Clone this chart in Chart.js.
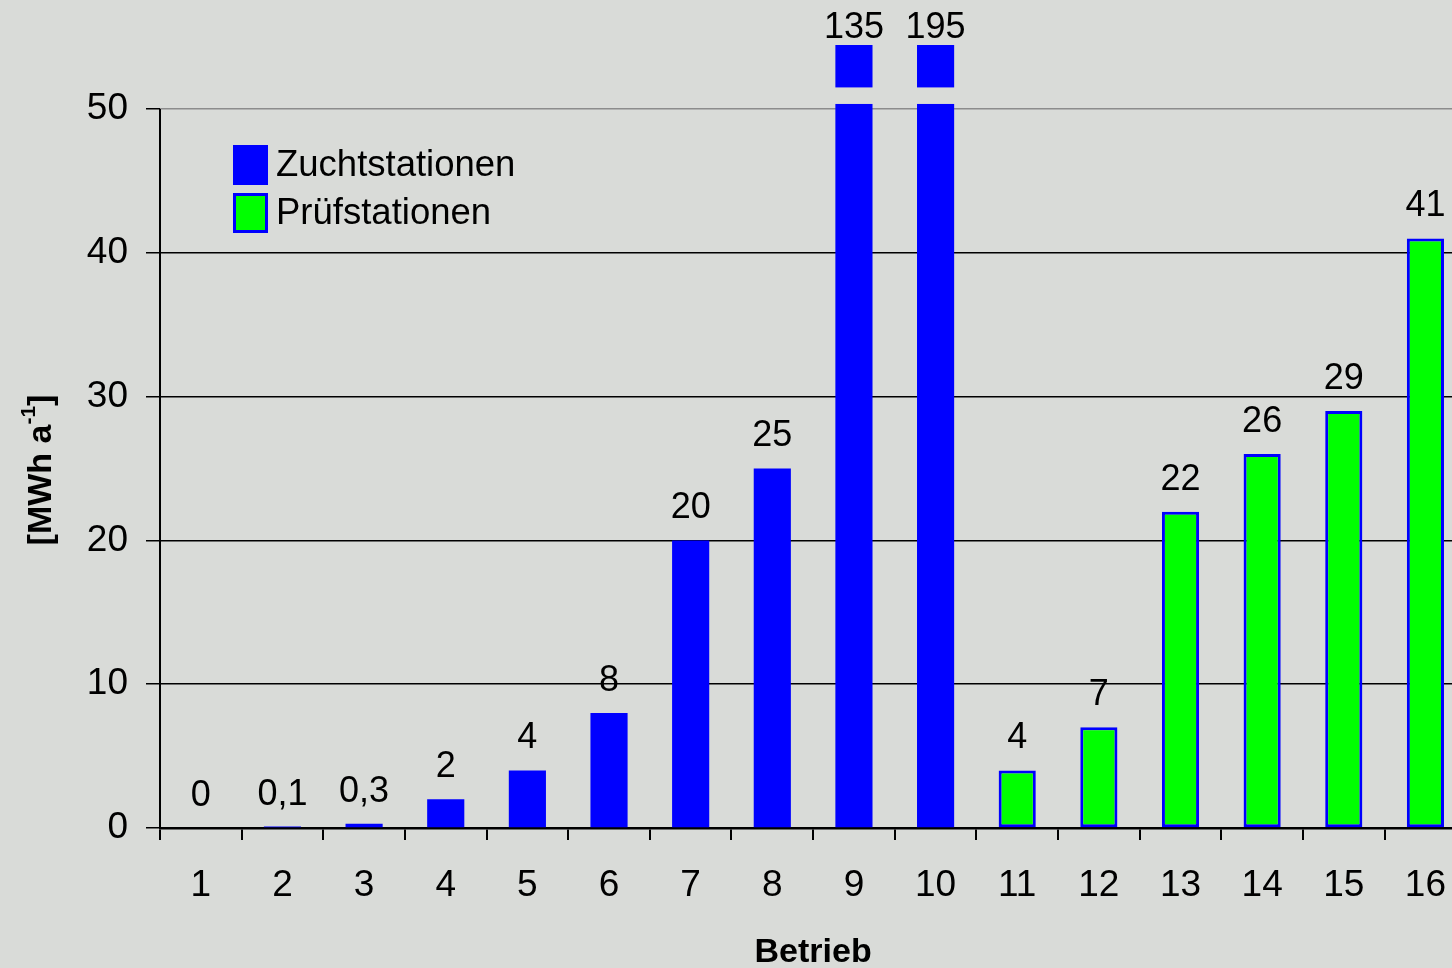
<!DOCTYPE html>
<html>
<head>
<meta charset="utf-8">
<script src="https://cdn.jsdelivr.net/npm/chart.js@4/dist/chart.umd.min.js"></script>
<style>
  html, body { margin: 0; padding: 0; background: #d9dbd8; overflow: hidden; }
  #wrap { width: 1470px; height: 968px; }
</style>
</head>
<body>
<div id="wrap"><canvas id="chart" width="1470" height="968"></canvas></div>
<script>
// Betriebe (farms) on the x axis
const betriebe = ['1', '2', '3', '4', '5', '6', '7', '8', '9', '10', '11', '12', '13', '14', '15', '16'];

// Annual energy use in MWh per year
const zuchtstationen = [0, 0.1, 0.3, 2, 4, 8, 20, 25, 135, 195, null, null, null, null, null, null];
const pruefstationen = [null, null, null, null, null, null, null, null, null, null, 4, 7, 22, 26, 29, 41];

// Visible y axis ticks (axis is broken above 50)
const yTicks = [0, 10, 20, 30, 40, 50];

const BG = '#d9dbd8';
const FONT = '"Liberation Sans", Arial, sans-serif';
const Y_TOP = 54.45;   // scale top: room for the stub of the broken bars
const BREAK_LOW = 50.35, BREAK_HIGH = 51.5;

const fmt = v => String(v).replace('.', ',');

// Value labels above each bar; broken bars get their label at the top edge
const valueLabels = {
  id: 'valueLabels',
  afterDatasetsDraw(chart) {
    const ctx = chart.ctx;
    const area = chart.chartArea;
    const y = chart.scales.y;
    ctx.save();
    // gap that marks the axis break on the tall bars
    chart.data.datasets.forEach((ds, di) => {
      const meta = chart.getDatasetMeta(di);
      meta.data.forEach((el, i) => {
        const v = ds.data[i];
        if (v == null || v <= 50) return;
        const top = y.getPixelForValue(BREAK_HIGH);
        const bot = y.getPixelForValue(BREAK_LOW);
        ctx.fillStyle = BG;
        ctx.fillRect(el.x - el.width / 2 - 3, top, el.width + 6, bot - top);
      });
    });
    ctx.fillStyle = '#000';
    ctx.font = '36px ' + FONT;
    ctx.textAlign = 'center';
    ctx.textBaseline = 'alphabetic';
    chart.data.datasets.forEach((ds, di) => {
      const meta = chart.getDatasetMeta(di);
      meta.data.forEach((el, i) => {
        const v = ds.data[i];
        if (v == null) return;
        const base = v > Y_TOP ? area.top - 7 : el.y - 22;
        ctx.fillText(fmt(v), el.x, base);
      });
    });
    ctx.restore();
  }
};

// Left axis line (only up to the break), legend and y axis title
const decorations = {
  id: 'decorations',
  afterDraw(chart) {
    const ctx = chart.ctx;
    const area = chart.chartArea;
    const y = chart.scales.y;
    ctx.save();
    ctx.strokeStyle = '#000';
    ctx.lineWidth = 2;
    ctx.beginPath();
    ctx.moveTo(area.left, y.getPixelForValue(50));
    ctx.lineTo(area.left, y.getPixelForValue(0));
    ctx.stroke();

    // legend
    const items = chart.data.datasets;
    const lx = 233, ly = 145, bw = 35, bh = 40, gap = 48;
    ctx.font = '36.5px ' + FONT;
    ctx.textAlign = 'left';
    ctx.textBaseline = 'middle';
    items.forEach((ds, k) => {
      const by = ly + k * gap;
      ctx.fillStyle = ds.borderColor;
      ctx.fillRect(lx, by, bw, bh);
      if (ds.borderWidth) {
        ctx.fillStyle = ds.backgroundColor;
        ctx.fillRect(lx + ds.borderWidth, by + ds.borderWidth, bw - 2 * ds.borderWidth, bh - 2 * ds.borderWidth);
      }
      ctx.fillStyle = '#000';
      ctx.fillText(ds.label, lx + bw + 8, by + bh / 2 + 1);
    });

    // y axis title with superscript
    const parts = [
      { t: '[MWh a', f: 'bold 34px ' + FONT, dy: 0 },
      { t: '-1', f: 'bold 21px ' + FONT, dy: -13 },
      { t: ']', f: 'bold 34px ' + FONT, dy: 0 }
    ];
    let total = 0;
    parts.forEach(p => { ctx.font = p.f; p.w = ctx.measureText(p.t).width; total += p.w; });
    ctx.translate(42, 470);
    ctx.rotate(-Math.PI / 2);
    ctx.textBaseline = 'middle';
    ctx.fillStyle = '#000';
    let x = -total / 2;
    parts.forEach(p => { ctx.font = p.f; ctx.fillText(p.t, x, p.dy); x += p.w; });
    ctx.restore();
  }
};

new Chart(document.getElementById('chart'), {
  type: 'bar',
  data: {
    labels: betriebe,
    datasets: [
      {
        label: 'Zuchtstationen',
        data: zuchtstationen,
        backgroundColor: '#0000ff',
        borderColor: '#0000ff',
        borderWidth: 0,
        clip: 0
      },
      {
        label: 'Prüfstationen',
        data: pruefstationen,
        backgroundColor: '#00ff00',
        borderColor: '#0000ff',
        borderWidth: 3,
        borderSkipped: false,
        clip: 0
      }
    ]
  },
  options: {
    responsive: false,
    animation: false,
    devicePixelRatio: 1,
    grouped: false,
    categoryPercentage: 1,
    barPercentage: 0.455,
    layout: { padding: { top: 45, left: 0, right: 0, bottom: 0 } },
    plugins: {
      legend: { display: false },
      tooltip: { enabled: false }
    },
    scales: {
      x: {
        offset: true,
        grid: {
          offset: true,
          drawOnChartArea: false,
          tickLength: 12,
          color: '#000',
          lineWidth: 2
        },
        border: { display: true, color: '#000', width: 2.5 },
        ticks: {
          color: '#000',
          font: { family: FONT, size: 37 },
          padding: 24,
          maxRotation: 0,
          autoSkip: false
        },
        title: {
          display: true,
          text: 'Betrieb',
          color: '#000',
          font: { family: FONT, size: 34, weight: 'bold', lineHeight: 1 },
          padding: { top: 0, bottom: -2 }
        },
        afterFit(scale) { scale.height = 140; }
      },
      y: {
        min: 0,
        max: Y_TOP,
        grid: {
          color: ctx => (ctx.tick && ctx.tick.value === 50 ? '#8c8c8c' : '#000'),
          tickColor: '#000',
          lineWidth: 1.5,
          tickLength: 14
        },
        border: { display: false },
        ticks: {
          color: '#000',
          font: { family: FONT, size: 37 },
          padding: 18
        },
        afterBuildTicks(scale) { scale.ticks = yTicks.map(v => ({ value: v })); },
        afterFit(scale) { scale.width = 160; }
      }
    }
  },
  plugins: [valueLabels, decorations]
});
</script>
</body>
</html>
